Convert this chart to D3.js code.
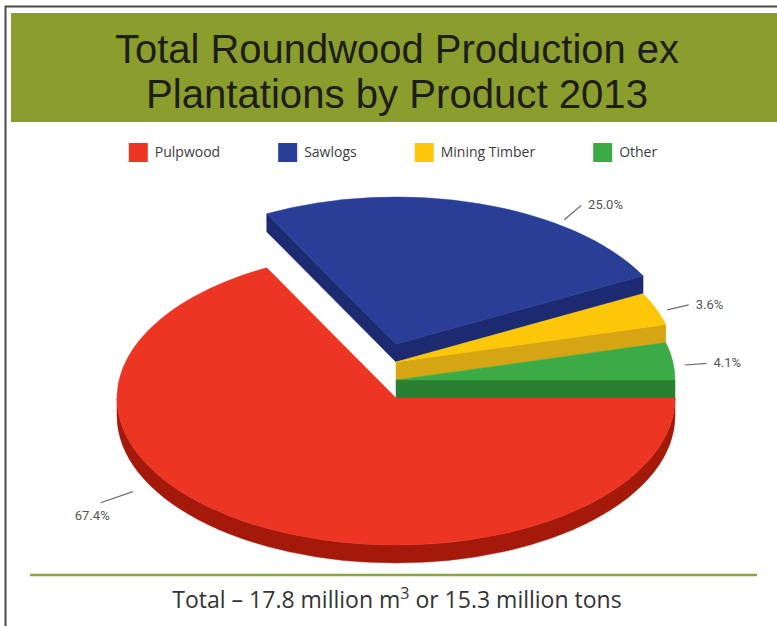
<!DOCTYPE html>
<html>
<head>
<meta charset="utf-8">
<script src="https://cdn.jsdelivr.net/npm/d3@7"></script>
<style>
  body { margin: 0; background: #fff; }
  svg { display: block; }
</style>
</head>
<body>
<div id="chart"></div>
<script>
// data
const products = ["Pulpwood", "Sawlogs", "Mining Timber", "Other"];
const shares = [67.4, 25.0, 3.6, 4.1];
const shareLabels = ["67.4%", "25.0%", "3.6%", "4.1%"];
const titleLines = ["Total Roundwood Production ex", "Plantations by Product 2013"];
const totalLine = ["Total \u2013 17.8 million m", "3", " or 15.3 million tons"];

const W = 777, H = 626;
const topColors = ["#ed3524", "#293f97", "#fcc609", "#3caa46"];
const sideColors = ["#a5190b", "#1c2a72", "#d6a513", "#2a7f30"];

const svg = d3.select("#chart").append("svg")
    .attr("width", W)
    .attr("height", H);

// frame + header band
svg.append("path")
    .attr("d", `M5.5,${H} L5.5,6.5 L${W},6.5`)
    .attr("fill", "none")
    .attr("stroke", "#4a4a4a")
    .attr("stroke-width", 2);

svg.append("rect")
    .attr("x", 11).attr("y", 13)
    .attr("width", W - 11).attr("height", 109)
    .attr("fill", "#8b9d2c");

const titleWidths = [564, 502];
svg.selectAll(".title")
    .data(titleLines)
    .enter()
    .append("text")
    .attr("class", "title")
    .attr("x", 397)
    .attr("y", (d, i) => 63 + i * 45)
    .attr("text-anchor", "middle")
    .attr("textLength", (d, i) => titleWidths[i])
    .attr("lengthAdjust", "spacingAndGlyphs")
    .style("font-family", "'Liberation Sans', sans-serif")
    .style("font-size", "40px")
    .style("fill", "#1d1d1b")
    .text(d => d);

// legend, laid out from text widths
const legend = svg.append("g");
const items = legend.selectAll(".item")
    .data(products)
    .enter()
    .append("g")
    .attr("class", "item");
items.append("rect")
    .attr("width", 19).attr("height", 19)
    .attr("y", 143)
    .attr("fill", (d, i) => topColors[i]);
items.append("text")
    .attr("x", 26)
    .attr("y", 157)
    .style("font-family", "'Open Sans', sans-serif")
    .style("font-size", "14px")
    .style("fill", "#3c3c3c")
    .text(d => d);
let lx = 0;
items.each(function () {
    const w = d3.select(this).select("text").node().getComputedTextLength();
    d3.select(this).attr("data-x", lx);
    lx += 26 + w + 58;
});
const legendW = lx - 58;
const legendX0 = 393 - legendW / 2;
items.attr("transform", function () {
    return `translate(${legendX0 + (+d3.select(this).attr("data-x"))},0)`;
});

// 3d pie
const cx = 396, cy = 398, rx = 279, ry = 147, depth = 18;

const pie = d3.pie()
    .sort(null)
    .value(d => d)
    .startAngle(Math.PI / 2)
    .endAngle(Math.PI / 2 + 2 * Math.PI);

// screen angle: 0 = east, growing clockwise; slices after the first are stacked up
const slices = pie(shares).map((p, i) => ({
    i: i,
    a0: p.startAngle - Math.PI / 2,
    a1: p.endAngle - Math.PI / 2,
    lift: i === 0 ? 0 : (shares.length - i) * depth
}));

function pt(a, lift, down) {
    return [cx + rx * Math.cos(a), cy - lift + (down || 0) + ry * Math.sin(a)];
}
function topPath(s) {
    const p0 = pt(s.a0, s.lift), p1 = pt(s.a1, s.lift);
    const large = s.a1 - s.a0 > Math.PI ? 1 : 0;
    return `M${cx},${cy - s.lift} L${p0} A${rx},${ry} 0 ${large} 1 ${p1} Z`;
}
function rimPath(s, a, b) {
    const p0 = pt(a, s.lift), p1 = pt(b, s.lift);
    const q1 = pt(b, s.lift, depth), q0 = pt(a, s.lift, depth);
    return `M${p0} A${rx},${ry} 0 0 1 ${p1} L${q1} A${rx},${ry} 0 0 0 ${q0} Z`;
}
function wallPath(s, a) {
    const p = pt(a, s.lift), q = pt(a, s.lift, depth);
    return `M${cx},${cy - s.lift} L${p} L${q} L${cx},${cy - s.lift + depth} Z`;
}

const pieG = svg.append("g");
slices.slice().sort((a, b) => b.lift - a.lift).forEach(s => {
    const g = pieG.append("g");
    const side = sideColors[s.i];
    // front half of the rim
    const a = Math.max(s.a0, 0), b = Math.min(s.a1, Math.PI);
    if (b > a) {
        g.append("path").attr("d", rimPath(s, a, b))
            .attr("fill", side).attr("stroke", side).attr("stroke-width", 0.5);
    }
    if (Math.cos(s.a0) < 0) {
        g.append("path").attr("d", wallPath(s, s.a0))
            .attr("fill", side).attr("stroke", side).attr("stroke-width", 0.5);
    }
    if (Math.cos(s.a1) > 0) {
        g.append("path").attr("d", wallPath(s, s.a1))
            .attr("fill", side).attr("stroke", side).attr("stroke-width", 0.5);
    }
    g.append("path").attr("d", topPath(s))
        .attr("fill", topColors[s.i])
        .attr("stroke", topColors[s.i]).attr("stroke-width", 0.5);
});

// value labels with short leaders
const labelAt = [0.62, 0.7, 0.5, 0.5];
const labelG = svg.append("g");
slices.forEach(s => {
    const a = s.a0 + labelAt[s.i] * (s.a1 - s.a0);
    const c = Math.cos(a), sn = Math.sin(a);
    const below = sn > 0.3;
    const off = below ? 24 : 12;
    const x1 = cx + (rx + off) * c;
    const y1 = cy - s.lift + (ry + off) * sn + (below ? depth * sn : depth * 0.3);
    const len = below ? 34 : 22;
    const dx = c, dy = sn * 0.6, n = Math.hypot(dx, dy);
    const x2 = x1 + len * dx / n, y2 = y1 + len * dy / n;
    labelG.append("line")
        .attr("x1", x1).attr("y1", y1)
        .attr("x2", x2).attr("y2", y2)
        .attr("stroke", "#6b6b6b")
        .attr("stroke-width", 1.2);
    const t = labelG.append("text")
        .style("font-family", "Roboto, sans-serif")
        .style("font-size", "13px")
        .style("fill", "#555")
        .text(shareLabels[s.i]);
    if (below) {
        t.attr("x", x2 + (c < 0 ? 9 : -9)).attr("y", y2 + 17)
            .attr("text-anchor", c < 0 ? "end" : "start");
    } else {
        t.attr("x", x2 + (c < 0 ? -7 : 7)).attr("y", y2 + 4)
            .attr("text-anchor", c < 0 ? "end" : "start");
    }
});

// footer
svg.append("line")
    .attr("x1", 30).attr("x2", 757)
    .attr("y1", 575).attr("y2", 575)
    .attr("stroke", "#8ea63a")
    .attr("stroke-width", 2.5);

const foot = svg.append("text")
    .attr("x", 397)
    .attr("y", 608)
    .attr("text-anchor", "middle")
    .style("font-family", "'Open Sans', sans-serif")
    .style("font-size", "23px")
    .style("fill", "#333");
foot.append("tspan").text(totalLine[0]);
foot.append("tspan").attr("dy", -9).style("font-size", "16px").text(totalLine[1]);
foot.append("tspan").attr("dy", 9).text(totalLine[2]);
</script>
</body>
</html>
